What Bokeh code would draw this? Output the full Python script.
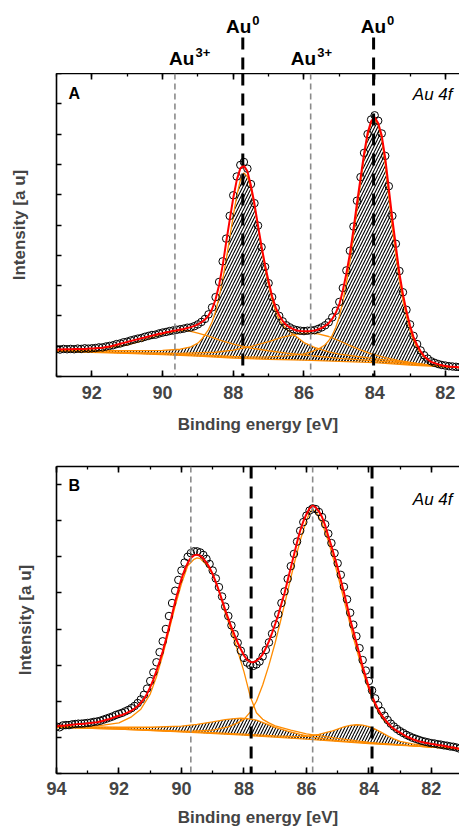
import numpy as np
from bokeh.plotting import figure
from bokeh.models import Range1d, SingleIntervalTicker, LinearAxis, Span, CustomLabelingPolicy
from bokeh.layouts import column
from bokeh.embed import file_html
from bokeh.resources import INLINE
from bokeh.core.properties import value

FONT = "Liberation Sans"
ORANGE = "#FF8C00"
RED = "#FF0000"
GREY = "#8a8a8a"

# ---------------- Panel A data ----------------
A_energy = np.round(np.arange(93.0, 81.55, -0.1), 1)
A_data = [0.90, 0.89, 0.91, 0.90, 0.91, 0.90, 0.92, 0.91, 0.93, 0.92,
          0.93, 0.94, 0.96, 0.96, 0.99, 1.01, 1.03, 1.07, 1.09, 1.13,
          1.15, 1.19, 1.22, 1.25, 1.27, 1.31, 1.34, 1.37, 1.38, 1.42,
          1.45, 1.47, 1.50, 1.52, 1.54, 1.56, 1.58, 1.61, 1.62, 1.66,
          1.72, 1.80, 1.90, 2.05, 2.28, 2.62, 3.12, 3.80, 4.55, 5.30,
          5.98, 6.60, 6.98, 7.08, 6.86, 6.35, 5.72, 4.98, 4.27, 3.62,
          3.08, 2.62, 2.26, 2.00, 1.82, 1.69, 1.62, 1.56, 1.53, 1.51,
          1.50, 1.51, 1.52, 1.53, 1.57, 1.62, 1.69, 1.79, 1.95, 2.17,
          2.46, 2.92, 3.50, 4.15, 4.95, 5.80, 6.58, 7.38, 8.00, 8.48,
          8.62, 8.44, 8.02, 7.28, 6.28, 5.30, 4.38, 3.48, 2.78, 2.20,
          1.72, 1.34, 1.07, 0.86, 0.70, 0.59, 0.50, 0.45, 0.41, 0.38,
          0.36, 0.34, 0.33, 0.32, 0.31]
A_fit = [0.89, 0.89, 0.90, 0.90, 0.90, 0.91, 0.91, 0.91, 0.91, 0.92,
         0.92, 0.93, 0.94, 0.95, 0.97, 0.99, 1.02, 1.05, 1.08, 1.11,
         1.14, 1.17, 1.20, 1.23, 1.26, 1.29, 1.32, 1.35, 1.38, 1.41,
         1.43, 1.46, 1.48, 1.51, 1.53, 1.55, 1.57, 1.60, 1.63, 1.67,
         1.72, 1.79, 1.88, 2.01, 2.22, 2.55, 3.02, 3.66, 4.43, 5.17,
         5.89, 6.49, 6.87, 6.96, 6.77, 6.30, 5.70, 4.98, 4.30, 3.67,
         3.14, 2.64, 2.28, 2.02, 1.83, 1.70, 1.62, 1.56, 1.52, 1.50,
         1.49, 1.49, 1.50, 1.52, 1.55, 1.60, 1.67, 1.76, 1.90, 2.10,
         2.38, 2.84, 3.40, 4.05, 4.85, 5.72, 6.54, 7.35, 8.03, 8.42,
         8.56, 8.36, 7.95, 7.20, 6.20, 5.20, 4.30, 3.40, 2.72, 2.15,
         1.68, 1.30, 1.04, 0.83, 0.67, 0.57, 0.48, 0.44, 0.40, 0.37,
         0.35, 0.33, 0.32, 0.31, 0.30]
A_bg_x = [93.0, 92.0, 91.0, 90.0, 89.0, 88.0, 87.0, 86.0, 85.0, 84.0, 83.0, 82.0, 81.6]
A_bg_y = [0.84, 0.80, 0.76, 0.72, 0.67, 0.61, 0.57, 0.54, 0.50, 0.46, 0.38, 0.32, 0.29]
# Au0 4f5/2 component
A_au0b_x = [93.0, 92.0, 91.0, 90.0, 89.5, 89.2, 89.0, 88.9, 88.8, 88.7, 88.6, 88.5, 88.4, 88.3,
            88.2, 88.1, 88.0, 87.9, 87.8, 87.7, 87.6, 87.5, 87.4, 87.3, 87.2, 87.1, 87.0,
            86.9, 86.8, 86.7, 86.6, 86.5, 86.4, 86.2, 86.0, 85.7, 85.3, 85.0, 84.5, 84.0,
            83.5, 83.0, 82.5, 82.0, 81.6]
A_au0b_y = [0.86, 0.85, 0.85, 0.86, 0.90, 0.98, 1.10, 1.22, 1.38, 1.55, 1.80, 2.15, 2.62, 3.20,
            3.86, 4.58, 5.30, 5.98, 6.48, 6.72, 6.60, 6.20, 5.62, 4.92, 4.22, 3.58, 3.02,
            2.52, 2.14, 1.88, 1.70, 1.58, 1.48, 1.30, 1.12, 0.96, 0.81, 0.74, 0.66, 0.59,
            0.52, 0.45, 0.38, 0.32, 0.29]
# Au0 4f7/2 component
A_au0a_x = [93.0, 92.0, 91.0, 90.0, 89.0, 88.0, 87.5, 87.0, 86.5, 86.0, 85.8, 85.6, 85.4, 85.3,
            85.2, 85.1, 85.0, 84.9, 84.8, 84.7, 84.6, 84.5, 84.4, 84.3, 84.2, 84.1, 84.0,
            83.9, 83.8, 83.7, 83.6, 83.5, 83.4, 83.3, 83.2, 83.1, 83.0, 82.9, 82.8, 82.7,
            82.6, 82.5, 82.3, 82.0, 81.6]
A_au0a_y = [0.85, 0.82, 0.79, 0.76, 0.71, 0.66, 0.64, 0.65, 0.68, 0.75, 0.81, 0.90, 1.05, 1.18,
            1.36, 1.62, 1.98, 2.48, 3.08, 3.78, 4.62, 5.52, 6.38, 7.22, 7.94, 8.36, 8.48,
            8.30, 7.86, 7.00, 5.95, 4.92, 4.02, 3.18, 2.52, 1.98, 1.53, 1.18, 0.94, 0.78,
            0.64, 0.55, 0.43, 0.34, 0.30]
# Au3+ components
A_au3b_x = [93.0, 92.0, 91.5, 91.0, 90.6, 90.2, 89.9, 89.6, 89.4, 89.2, 89.0, 88.7, 88.4, 88.0,
            87.5, 87.0, 86.5, 86.0, 85.0, 84.0, 83.0, 82.0, 81.6]
A_au3b_y = [0.85, 0.91, 0.96, 1.04, 1.17, 1.32, 1.43, 1.50, 1.52, 1.49, 1.43, 1.33, 1.21, 1.07,
            0.94, 0.85, 0.77, 0.71, 0.60, 0.52, 0.42, 0.33, 0.29]
A_au3a_x = [93.0, 91.0, 89.5, 88.5, 88.0, 87.5, 87.0, 86.6, 86.2, 85.9, 85.6, 85.3, 85.0, 84.7,
            84.4, 84.1, 83.7, 83.3, 82.8, 82.4, 82.0, 81.6]
A_au3a_y = [0.84, 0.78, 0.76, 0.80, 0.87, 0.99, 1.15, 1.30, 1.40, 1.43, 1.41, 1.32, 1.18, 1.02,
            0.88, 0.75, 0.62, 0.52, 0.43, 0.37, 0.33, 0.30]
A_lines_au3 = [89.65, 85.81]
A_lines_au0 = [87.73, 84.03]
A_xlim = (93.0, 81.6)
A_ylim = (0, 10)

# ---------------- Panel B data ----------------
B_energy = np.round(np.arange(94.0, 81.05, -0.1), 1)
B_data = [1.30, 1.28, 1.33, 1.34, 1.34, 1.36, 1.37, 1.38, 1.38, 1.39,
          1.40, 1.41, 1.43, 1.44, 1.46, 1.49, 1.52, 1.55, 1.58, 1.62,
          1.65, 1.68, 1.72, 1.76, 1.81, 1.87, 1.95, 2.05, 2.18, 2.35,
          2.56, 2.80, 3.08, 3.36, 3.66, 4.00, 4.36, 4.72, 5.06, 5.36,
          5.62, 5.84, 6.00, 6.10, 6.15, 6.15, 6.12, 6.05, 5.94, 5.80,
          5.62, 5.40, 5.16, 4.90, 4.62, 4.36, 4.10, 3.86, 3.62, 3.40,
          3.20, 3.07, 3.00, 2.98, 3.02, 3.10, 3.24, 3.42, 3.63, 3.87,
          4.13, 4.41, 4.72, 5.04, 5.39, 5.74, 6.08, 6.42, 6.72, 6.96,
          7.14, 7.28, 7.34, 7.32, 7.24, 7.10, 6.90, 6.64, 6.38, 6.10,
          5.82, 5.50, 5.17, 4.82, 4.45, 4.12, 3.80, 3.47, 3.14, 2.85,
          2.56, 2.30, 2.08, 1.89, 1.73, 1.60, 1.48, 1.38, 1.30, 1.23,
          1.17, 1.12, 1.07, 1.03, 0.99, 0.96, 0.93, 0.90, 0.88, 0.86,
          0.84, 0.83, 0.81, 0.80, 0.78, 0.77, 0.75, 0.74, 0.72, 0.69]
B_fit = [1.31, 1.32, 1.32, 1.33, 1.34, 1.35, 1.36, 1.37, 1.37, 1.38,
         1.39, 1.40, 1.41, 1.42, 1.44, 1.46, 1.49, 1.51, 1.54, 1.57,
         1.60, 1.62, 1.66, 1.70, 1.74, 1.80, 1.87, 1.96, 2.07, 2.21,
         2.39, 2.60, 2.84, 3.10, 3.38, 3.70, 4.05, 4.40, 4.76, 5.08,
         5.39, 5.63, 5.83, 5.97, 6.04, 6.06, 6.03, 5.95, 5.84, 5.70,
         5.52, 5.30, 5.06, 4.80, 4.53, 4.29, 4.05, 3.83, 3.62, 3.44,
         3.27, 3.15, 3.09, 3.08, 3.12, 3.19, 3.30, 3.47, 3.66, 3.89,
         4.14, 4.40, 4.70, 5.00, 5.35, 5.70, 6.05, 6.40, 6.72, 6.98,
         7.18, 7.34, 7.42, 7.36, 7.26, 7.10, 6.87, 6.57, 6.30, 6.00,
         5.70, 5.36, 5.02, 4.65, 4.27, 3.95, 3.62, 3.30, 2.96, 2.67,
         2.39, 2.15, 1.95, 1.77, 1.62, 1.51, 1.40, 1.31, 1.24, 1.18,
         1.13, 1.08, 1.03, 0.99, 0.95, 0.92, 0.89, 0.87, 0.85, 0.84,
         0.82, 0.81, 0.79, 0.78, 0.77, 0.75, 0.73, 0.72, 0.70, 0.68]
B_bg_x = [94.0, 92.0, 90.0, 88.0, 86.0, 84.0, 82.5, 81.1]
B_bg_y = [1.28, 1.23, 1.15, 1.06, 0.95, 0.83, 0.76, 0.68]
# Au3+ components (large)
B_au3b_x = [94.0, 93.0, 92.5, 92.0, 91.6, 91.3, 91.0, 90.8, 90.6, 90.4, 90.2, 90.0, 89.8, 89.6,
            89.5, 89.4, 89.2, 89.0, 88.8, 88.6, 88.4, 88.2, 88.0, 87.8, 87.6, 87.4, 87.2,
            87.0, 86.5, 86.0, 85.0, 84.0, 83.0, 82.0, 81.1]
B_au3b_y = [1.27, 1.30, 1.34, 1.40, 1.57, 1.78, 2.20, 2.68, 3.27, 3.95, 4.64, 5.25, 5.75, 5.93,
            5.97, 5.95, 5.78, 5.52, 5.05, 4.45, 3.95, 3.40, 2.82, 2.14, 1.68, 1.50, 1.40,
            1.32, 1.20, 1.10, 0.97, 0.86, 0.79, 0.73, 0.68]
B_au3a_x = [94.0, 92.0, 90.0, 89.0, 88.5, 88.2, 88.0, 87.8, 87.6, 87.4, 87.2, 87.0, 86.8, 86.6,
            86.4, 86.2, 86.0, 85.9, 85.8, 85.7, 85.5, 85.3, 85.1, 84.9, 84.7, 84.5, 84.3,
            84.1, 83.9, 83.7, 83.5, 83.2, 82.8, 82.2, 81.6, 81.1]
B_au3a_y = [1.28, 1.23, 1.16, 1.20, 1.29, 1.40, 1.50, 1.70, 2.00, 2.45, 3.00, 3.62, 4.32, 5.05,
            5.78, 6.45, 7.00, 7.22, 7.30, 7.25, 6.93, 6.44, 5.83, 5.17, 4.47, 3.77, 3.15,
            2.56, 2.08, 1.70, 1.45, 1.22, 1.00, 0.85, 0.76, 0.70]
# Au0 components (small, hatched)
B_au0b_x = [94.0, 92.0, 91.0, 90.0, 89.5, 89.0, 88.6, 88.3, 88.1, 87.9, 87.6, 87.3, 87.0, 86.6,
            86.2, 85.8, 85.0, 84.0, 83.0, 82.0, 81.1]
B_au0b_y = [1.30, 1.28, 1.28, 1.31, 1.36, 1.43, 1.49, 1.52, 1.53, 1.52, 1.48, 1.38, 1.28, 1.17,
            1.08, 1.01, 0.91, 0.84, 0.79, 0.73, 0.68]
B_au0a_x = [94.0, 92.0, 90.0, 88.0, 87.0, 86.4, 86.0, 85.6, 85.2, 85.0, 84.8, 84.6, 84.4, 84.2,
            84.0, 83.8, 83.6, 83.4, 83.2, 83.0, 82.6, 82.0, 81.1]
B_au0a_y = [1.29, 1.25, 1.17, 1.09, 1.04, 1.02, 1.03, 1.08, 1.17, 1.23, 1.29, 1.33, 1.35, 1.34,
            1.30, 1.23, 1.14, 1.04, 0.96, 0.89, 0.82, 0.75, 0.68]
B_lines_au3 = [89.7, 85.8]
B_lines_au0 = [87.77, 83.9]
B_xlim = (94.0, 81.1)
B_ylim = (0, 8.5)

X_TITLE = "Binding energy [eV]"
Y_TITLE = "Intensity [a u]"
HIDE_LABELS = "for (const i of Array.from(indices.ones())) { indices.unset(i) }\nreturn indices"


def style_axes(p, ystand, xlab_stand, xtick_stand):
    p.grid.visible = False
    p.outline_line_color = None
    xa = p.xaxis[0]
    ya = p.yaxis[0]
    xa.ticker = SingleIntervalTicker(interval=2, num_minor_ticks=2)
    ya.ticker = SingleIntervalTicker(interval=1, num_minor_ticks=0)
    for ax in (xa, ya):
        ax.axis_line_width = 1.6
        ax.major_tick_line_width = 1.6
        ax.minor_tick_line_width = 1.3
        ax.major_tick_in = 6
        ax.major_tick_out = 0
        ax.minor_tick_in = 3
        ax.minor_tick_out = 0
        ax.axis_label_text_font = FONT
        ax.axis_label_text_font_style = "bold"
        ax.axis_label_text_font_size = "17px"
        ax.major_label_text_font = FONT
        ax.major_label_text_font_style = "bold"
        ax.major_label_text_font_size = "18px"
    ya.major_tick_in = 5
    ya.major_label_text_font_size = "0px"
    ya.major_label_policy = CustomLabelingPolicy(code=HIDE_LABELS)
    ya.major_label_standoff = 0
    ya.axis_label_standoff = ystand
    xa.major_label_standoff = xtick_stand
    xa.axis_label_standoff = xlab_stand
    top = LinearAxis(ticker=SingleIntervalTicker(interval=2, num_minor_ticks=2),
                     major_label_text_font_size="0px", major_label_standoff=0,
                     major_label_policy=CustomLabelingPolicy(code=HIDE_LABELS),
                     axis_line_width=1.6, major_tick_line_width=1.6, minor_tick_line_width=1.3,
                     major_tick_in=6, major_tick_out=0, minor_tick_in=3, minor_tick_out=0)
    p.add_layout(top, "above")


def draw_panel(p, energy, data, fit, bg_x, bg_y, hatched, plain, au3_lines, au0_lines,
               letter, letter_dy, tag_dy, xr, yr):
    for cx, cy in hatched:
        px = list(cx) + list(bg_x)[::-1]
        py = list(cy) + list(bg_y)[::-1]
        p.patch(px, py, fill_alpha=0, line_color=None, hatch_pattern="/",
                hatch_color="black", hatch_scale=6, hatch_weight=1.1)
    for cx, cy in list(hatched) + list(plain):
        p.line(cx, cy, line_color=ORANGE, line_width=1.3)
    p.line(bg_x, bg_y, line_color=ORANGE, line_width=1.3)
    p.scatter(energy, data, marker="circle", size=7.5, fill_color=None,
              line_color="black", line_width=1)
    p.line(energy, fit, line_color=RED, line_width=2)
    for v in au3_lines:
        p.add_layout(Span(location=v, dimension="height", line_color=GREY,
                          line_dash="6 4", line_width=1.6))
    for v in au0_lines:
        p.add_layout(Span(location=v, dimension="height", line_color="black",
                          line_dash="12 8", line_width=3))
    p.text(x=[xr[0]], y=[yr[1]], text=[letter], x_offset=12, y_offset=letter_dy,
           text_baseline="top", text_align="left", text_font=value(FONT),
           text_font_style="bold", text_font_size="16px", text_color="black")
    p.text(x=[xr[1]], y=[yr[1]], text=["Au 4f"], x_offset=-7, y_offset=tag_dy,
           text_baseline="top", text_align="right", text_font=value(FONT),
           text_font_style="italic", text_font_size="17px", text_color="black")


xrA = Range1d(*A_xlim)
yrA = Range1d(*A_ylim)
xrB = Range1d(*B_xlim)
yrB = Range1d(*B_ylim)

# ---------------- header with oxidation-state labels ----------------
head = figure(width=459, height=73, x_range=xrA, y_range=Range1d(0, 73), title=None,
              min_border_left=56, min_border_right=0, min_border_top=0, min_border_bottom=0,
              toolbar_location=None, output_backend="svg", x_axis_type=None, y_axis_type=None)
head.outline_line_color = None
head.grid.visible = False
head.segment(x0=A_lines_au0, y0=[36, 36], x1=A_lines_au0, y1=[0, 0],
             line_color="black", line_width=3, line_dash="12 8")
txt = dict(text_baseline="alphabetic", text_font=value(FONT), text_font_style="bold",
           text_color="black")
head.text(x=A_lines_au0, y=[47, 47], text=["Au", "Au"], x_offset=[8.5, 12.5],
          text_align="right", text_font_size="19px", **txt)
head.text(x=A_lines_au0, y=[53, 53], text=["0", "0"], x_offset=[9.5, 13.5],
          text_align="left", text_font_size="13px", **txt)
head.text(x=A_lines_au3, y=[15, 15], text=["Au", "Au"], x_offset=[19.5, 5.5],
          text_align="right", text_font_size="19px", **txt)
head.text(x=A_lines_au3, y=[21, 21], text=["3+", "3+"], x_offset=[20.5, 6.5],
          text_align="left", text_font_size="13px", **txt)

# ---------------- Panel A ----------------
pA = figure(width=459, height=367, x_range=xrA, y_range=yrA, title=None,
            min_border_left=56, min_border_right=0, min_border_top=0, min_border_bottom=64,
            toolbar_location=None, output_backend="svg",
            x_axis_label=X_TITLE, y_axis_label=Y_TITLE)
style_axes(pA, ystand=28, xlab_stand=13, xtick_stand=9)
draw_panel(pA, A_energy, A_data, A_fit, A_bg_x, A_bg_y,
           hatched=[(A_au0a_x, A_au0a_y), (A_au0b_x, A_au0b_y)],
           plain=[(A_au3a_x, A_au3a_y), (A_au3b_x, A_au3b_y)],
           au3_lines=A_lines_au3, au0_lines=A_lines_au0,
           letter="A", letter_dy=11, tag_dy=11, xr=A_xlim, yr=A_ylim)

# ---------------- Panel B ----------------
pB = figure(width=459, height=389, x_range=xrB, y_range=yrB, title=None,
            min_border_left=51, min_border_right=0, min_border_top=26, min_border_bottom=56,
            toolbar_location=None, output_backend="svg",
            x_axis_label=X_TITLE, y_axis_label=Y_TITLE)
style_axes(pB, ystand=22, xlab_stand=10, xtick_stand=8)
draw_panel(pB, B_energy, B_data, B_fit, B_bg_x, B_bg_y,
           hatched=[(B_au0a_x, B_au0a_y), (B_au0b_x, B_au0b_y)],
           plain=[(B_au3a_x, B_au3a_y), (B_au3b_x, B_au3b_y)],
           au3_lines=B_lines_au3, au0_lines=B_lines_au0,
           letter="B", letter_dy=10, tag_dy=23, xr=B_xlim, yr=B_ylim)

layout = column(head, pA, pB, spacing=0)
open("out.html", "w").write(file_html(layout, INLINE))
